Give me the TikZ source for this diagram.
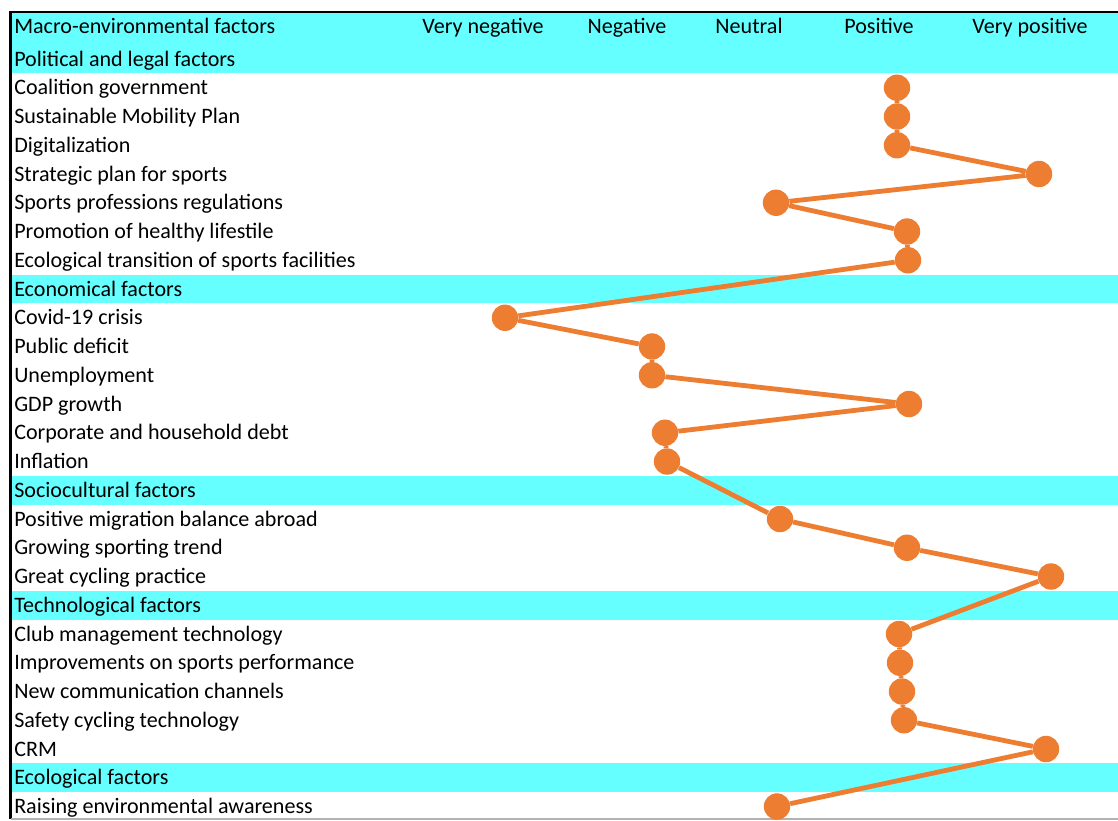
\documentclass[tikz,border=0pt]{standalone}
\usepackage{fontspec}
\setmainfont{Carlito}
\usepackage{tikz}
\usetikzlibrary{shapes,calc}
\definecolor{bandCyan}{HTML}{66FFFF}
\definecolor{dotOrange}{HTML}{ED7D31}
\tikzstyle{row}  = [anchor=base west,inner sep=0pt,yshift=-5.4pt,font=\fontsize{16.55}{19}\selectfont]
\tikzstyle{col}  = [anchor=base,inner sep=0pt,yshift=-5.4pt,font=\fontsize{16.55}{19}\selectfont]
\tikzstyle{dot}  = [circle,fill=dotOrange,inner sep=0pt,minimum size=19.8pt]
\tikzstyle{link} = [draw=dotOrange,line width=3.6pt]

\begin{document}
\begin{tikzpicture}[x=0.75pt,y=-0.75pt]
	\useasboundingbox (0,0) rectangle (1118,821);
	
	% cyan bands
	\fill[bandCyan] (11,13) rectangle (1118,73.4);
	\fill[bandCyan] (11,274.6) rectangle (1118,303.4);
	\fill[bandCyan] (11,475.9) rectangle (1118,504.6);
	\fill[bandCyan] (11,590.9) rectangle (1118,619.6);
	\fill[bandCyan] (11,763.4) rectangle (1118,792.1);
	
	% frame
	\draw[line width=2pt] (1118,12) -- (10.5,12) -- (10.5,819);
	\draw[gray!60,line width=0.8pt] (10.5,819) -- (1118,819);
	
	% header
	\node[row] (head) at (14,26) {Macro-environmental factors};
	\node[col] (c1) at (483,26) {Very negative};
	\node[col] (c2) at (627,26) {Negative};
	\node[col] (c3) at (749,26) {Neutral};
	\node[col] (c4) at (879,26) {Positive};
	\node[col] (c5) at (1030,26) {Very positive};
	
	% rows
	\node[row] (r0)  at (14,59)     {Political and legal factors};
	\node[row] (r1)  at (14,87.75)  {Coalition government};
	\node[row] (r2)  at (14,116.5)  {Sustainable Mobility Plan};
	\node[row] (r3)  at (14,145.25) {Digitalization};
	\node[row] (r4)  at (14,174)    {Strategic plan for sports};
	\node[row] (r5)  at (14,202.75) {Sports professions regulations};
	\node[row] (r6)  at (14,231.5)  {Promotion of healthy lifestile};
	\node[row] (r7)  at (14,260.25) {Ecological transition of sports facilities};
	\node[row] (r8)  at (14,289)    {Economical factors};
	\node[row] (r9)  at (14,317.75) {Covid-19 crisis};
	\node[row] (r10) at (14,346.5)  {Public deficit};
	\node[row] (r11) at (14,375.25) {Unemployment};
	\node[row] (r12) at (14,404)    {GDP growth};
	\node[row] (r13) at (14,432.75) {Corporate and household debt};
	\node[row] (r14) at (14,461.5)  {Inflation};
	\node[row] (r15) at (14,490.25) {Sociocultural factors};
	\node[row] (r16) at (14,519)    {Positive migration balance abroad};
	\node[row] (r17) at (14,547.75) {Growing sporting trend};
	\node[row] (r18) at (14,576.5)  {Great cycling practice};
	\node[row] (r19) at (14,605.25) {Technological factors};
	\node[row] (r20) at (14,634)    {Club management technology};
	\node[row] (r21) at (14,662.75) {Improvements on sports performance};
	\node[row] (r22) at (14,691.5)  {New communication channels};
	\node[row] (r23) at (14,720.25) {Safety cycling technology};
	\node[row] (r24) at (14,749)    {CRM};
	\node[row] (r25) at (14,777.75) {Ecological factors};
	\node[row] (r26) at (14,806.5)  {Raising environmental awareness};
	
	% ratings
	\node[dot] (p1)  at (897,87.75)  {};
	\node[dot] (p2)  at (897,116.5)  {};
	\node[dot] (p3)  at (897,145.25) {};
	\node[dot] (p4)  at (1039,174)   {};
	\node[dot] (p5)  at (776,202.75) {};
	\node[dot] (p6)  at (907,231.5)  {};
	\node[dot] (p7)  at (908,260.25) {};
	\node[dot] (p9)  at (505,317.75) {};
	\node[dot] (p10) at (652,346.5)  {};
	\node[dot] (p11) at (652,375.25) {};
	\node[dot] (p12) at (909,404)    {};
	\node[dot] (p13) at (665,432.75) {};
	\node[dot] (p14) at (667,461.5)  {};
	\node[dot] (p16) at (780,519)    {};
	\node[dot] (p17) at (907,547.75) {};
	\node[dot] (p18) at (1051,576.5) {};
	\node[dot] (p20) at (899,634)    {};
	\node[dot] (p21) at (900,662.75) {};
	\node[dot] (p22) at (902,691.5)  {};
	\node[dot] (p23) at (904,720.25) {};
	\node[dot] (p24) at (1046,749)   {};
	\node[dot] (p26) at (777,806.5)  {};
	
	\path[link] (p1) -- (p2) -- (p3) -- (p4) -- (p5) -- (p6) -- (p7) -- (p9);
	\path[link] (p9) -- (p10) -- (p11) -- (p12) -- (p13) -- (p14) -- (p16);
	\path[link] (p16) -- (p17) -- (p18) -- (p20) -- (p21) -- (p22) -- (p23);
	\path[link] (p23) -- (p24) -- (p26);
\end{tikzpicture}
\end{document}
